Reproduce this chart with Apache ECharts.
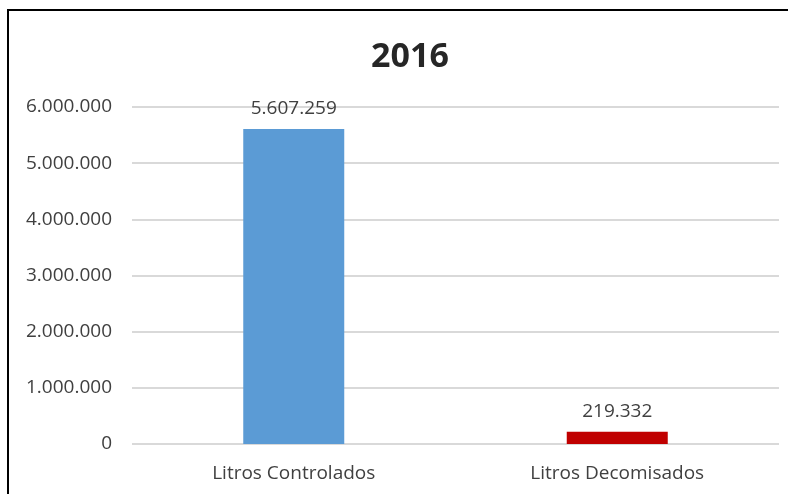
<!DOCTYPE html>
<html><head><meta charset="utf-8">
<script src="https://cdn.jsdelivr.net/npm/echarts@6/dist/echarts.min.js"></script>
<style>html,body{margin:0;padding:0;background:#fff}#c{width:788px;height:494px}</style>
</head><body><div id="c"></div>
<script>
var title = '2016';
var categories = ['Litros Controlados', 'Litros Decomisados'];
var values = [5607259, 219332];
var barColors = ['#5B9BD5', '#C00000'];
var yTicks = [0, 1000000, 2000000, 3000000, 4000000, 5000000, 6000000];

function fmt(v) { return String(Math.round(v)).replace(/\B(?=(\d{3})+(?!\d))/g, '.'); }

var font = 'Open Sans';
var chart = echarts.init(document.getElementById('c'));
chart.setOption({
  animation: false,
  backgroundColor: '#fff',
  title: { text: title, left: 405, top: 35, textAlign: 'center',
    textStyle: { fontFamily: font, fontSize: 34, fontWeight: 'bold', color: '#262626' } },
  graphic: [{ type: 'rect', shape: { x: 8, y: 10, width: 800, height: 500 },
    style: { fill: 'none', stroke: '#000', lineWidth: 2 }, z: 100 }],
  grid: { left: 132, right: 9, top: 107, bottom: 50 },
  xAxis: { type: 'category', data: categories,
    axisLine: { show: false }, axisTick: { show: false },
    axisLabel: { fontFamily: font, fontSize: 19, color: '#404040', margin: 20 } },
  yAxis: { type: 'value', min: yTicks[0], max: yTicks[yTicks.length - 1], interval: yTicks[1] - yTicks[0],
    axisLine: { show: false }, axisTick: { show: false },
    splitLine: { lineStyle: { color: '#D9D9D9', width: 2 } },
    axisLabel: { fontFamily: font, fontSize: 19, color: '#404040', margin: 20, formatter: fmt } },
  series: [{ type: 'bar', barWidth: 101,
    data: values.map(function (v, i) { return { value: v, itemStyle: { color: barColors[i] } }; }),
    label: { show: true, position: 'top', distance: 11, fontFamily: font, fontSize: 19, color: '#404040',
      formatter: function (p) { return fmt(p.value); } } }]
});
</script></body></html>
